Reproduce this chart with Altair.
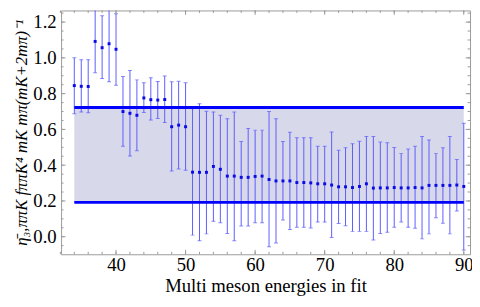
import altair as alt
import pandas as pd

# ---- data ----
energies = list(range(34, 91))
centre = [0.845, 0.841, 0.840, 1.092, 1.057, 1.079, 1.048, 0.700, 0.690, 0.679,
          0.776, 0.766, 0.764, 0.767, 0.615, 0.624, 0.615, 0.361, 0.360, 0.360,
          0.393, 0.377, 0.339, 0.339, 0.332, 0.332, 0.337, 0.339, 0.320, 0.312,
          0.312, 0.312, 0.303, 0.303, 0.301, 0.296, 0.296, 0.289, 0.279, 0.279,
          0.275, 0.281, 0.296, 0.272, 0.273, 0.273, 0.275, 0.273, 0.273, 0.275,
          0.273, 0.287, 0.287, 0.287, 0.287, 0.289, 0.281]
upper = [1.000, 0.990, 0.990, 1.320, 1.235, 1.320, 1.247, 0.896, 0.930, 0.877,
         0.861, 0.889, 0.868, 0.898, 0.866, 0.869, 0.861, 0.715, 0.744, 0.702,
         0.698, 0.679, 0.660, 0.697, 0.533, 0.605, 0.596, 0.596, 0.700, 0.660,
         0.533, 0.584, 0.554, 0.554, 0.554, 0.506, 0.506, 0.586, 0.483, 0.497,
         0.520, 0.534, 0.561, 0.561, 0.529, 0.525, 0.499, 0.466, 0.490, 0.506,
         0.561, 0.541, 0.466, 0.497, 0.561, 0.432, 0.635]
lower = [0.688, 0.697, 0.693, 0.917, 0.884, 0.866, 0.847, 0.506, 0.451, 0.481,
         0.695, 0.652, 0.661, 0.638, 0.367, 0.379, 0.372, 0.009, -0.023, 0.016,
         0.086, 0.078, 0.018, -0.023, 0.060, 0.060, 0.078, 0.078, -0.056, -0.035,
         0.094, 0.041, 0.053, 0.053, 0.049, 0.082, 0.082, -0.004, 0.074, 0.062,
         0.030, 0.030, 0.030, -0.018, 0.018, 0.025, 0.053, 0.082, 0.053, 0.048,
         -0.012, 0.016, 0.106, 0.076, 0.016, 0.144, -0.074]

band_x = [34, 90]
band_low = 0.192
band_high = 0.722

x_major = [40, 50, 60, 70, 80, 90]
x_minor = list(range(32, 91, 2))
y_major = [0.0, 0.2, 0.4, 0.6, 0.8, 1.0, 1.2]
y_minor = [-0.05, 0.0, 0.05, 0.1, 0.15, 0.2, 0.25, 0.3, 0.35, 0.4, 0.45, 0.5,
           0.55, 0.6, 0.65, 0.7, 0.75, 0.8, 0.85, 0.9, 0.95, 1.0, 1.05, 1.1,
           1.15, 1.2, 1.25]

W, H = 416, 248
FONT = "Liberation Serif"
FRAME = "#9a9a9a"

df = pd.DataFrame({"x": energies, "y": centre, "hi": upper, "lo": lower})
band = pd.DataFrame({"x": [band_x[0]], "x2": [band_x[1]],
                     "lo": [band_low], "hi": [band_high]})

xsc = alt.Scale(domain=[32.1, 90.9], nice=False, zero=False)
ysc = alt.Scale(domain=[-0.098, 1.265], nice=False, zero=False)

XA = alt.Axis(values=x_major, ticks=False, domain=False, grid=False,
              labelFont=FONT, labelFontSize=19, labelColor="#000",
              labelPadding=2, labelFlush=False,
              title="Multi meson energies in fit", titleFont=FONT,
              titleFontSize=19, titleFontWeight="normal",
              titleColor="#000", titlePadding=2)
YA = alt.Axis(values=y_major, ticks=False, domain=False, grid=False,
              format=".1f", labelFont=FONT, labelFontSize=19,
              labelColor="#000", labelPadding=5, labelFlush=False,
              title="η̄₃,ππK fππK⁴ mK mπ(mK+2mπ)⁻¹",
              titleFont=FONT, titleFontSize=17,
              titleFontWeight="normal", titleFontStyle="italic",
              titleColor="#000", titlePadding=2)


def X(f):
    return alt.X(f, scale=xsc, axis=XA)


def Y(f):
    return alt.Y(f, scale=ysc, axis=YA)


base = alt.Chart(df)

rect = alt.Chart(band).mark_rect(color="#d8d8eb").encode(
    x=X("x:Q"), x2="x2:Q", y=Y("lo:Q"), y2="hi:Q")
line_hi = alt.Chart(band).mark_rule(color="#0000ff", strokeWidth=3).encode(
    x=X("x:Q"), x2="x2:Q", y=Y("hi:Q"))
line_lo = alt.Chart(band).mark_rule(color="#0000ff", strokeWidth=3).encode(
    x=X("x:Q"), x2="x2:Q", y=Y("lo:Q"))

bars = base.mark_rule(color="#5c5cff", strokeWidth=1, clip=True).encode(
    x=X("x:Q"), y=Y("lo:Q"), y2="hi:Q")
cap_hi = base.mark_tick(color="#5c5cff", orient="horizontal", size=4,
                        thickness=1, clip=True).encode(x=X("x:Q"), y=Y("hi:Q"))
cap_lo = base.mark_tick(color="#5c5cff", orient="horizontal", size=4,
                        thickness=1, clip=True).encode(x=X("x:Q"), y=Y("lo:Q"))

points = base.mark_square(size=9, color="#0a0ae6", opacity=1).encode(
    x=X("x:Q"), y=Y("y:Q"))


def xticks(vals, length):
    d = alt.Chart(pd.DataFrame({"t": vals}))
    bot = d.mark_rule(color=FRAME, strokeWidth=1).encode(
        x=X("t:Q"), y=alt.value(H), y2=alt.value(H - length))
    top = d.mark_rule(color=FRAME, strokeWidth=1).encode(
        x=X("t:Q"), y=alt.value(0), y2=alt.value(length))
    return [bot, top]


def yticks(vals, length):
    d = alt.Chart(pd.DataFrame({"t": vals}))
    left = d.mark_rule(color=FRAME, strokeWidth=1).encode(
        y=Y("t:Q"), x=alt.value(0), x2=alt.value(length))
    right = d.mark_rule(color=FRAME, strokeWidth=1).encode(
        y=Y("t:Q"), x=alt.value(W), x2=alt.value(W - length))
    return [left, right]


tick_layers = (xticks(x_minor, 2.5) + xticks(x_major, 4.5)
               + yticks(y_minor, 2.5) + yticks(y_major, 4.5))

chart = alt.layer(rect, bars, cap_hi, cap_lo, line_hi, line_lo, points,
                  *tick_layers).properties(
    width=W, height=H,
    autosize=alt.AutoSizeParams(type="none"),
    padding={"left": 54, "top": 0, "right": 2, "bottom": 43},
).configure_view(stroke=FRAME, strokeWidth=1)

chart.save("out.html", embed_options={"renderer": "svg", "actions": False})
